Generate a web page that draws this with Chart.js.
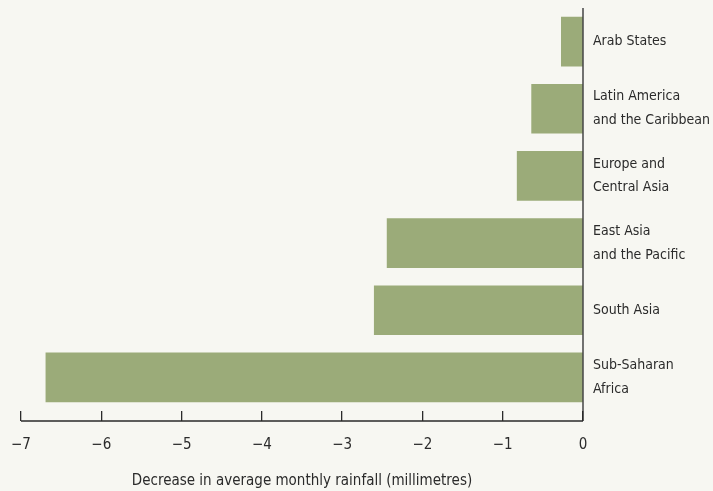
<!DOCTYPE html>
<html>
<head>
<meta charset="utf-8">
<script src="https://cdn.jsdelivr.net/npm/chart.js@4/dist/chart.umd.min.js"></script>
<style>
  html, body { margin: 0; padding: 0; background: #f7f7f2; }
  #wrap { width: 713px; height: 491px; }
</style>
</head>
<body>
<div id="wrap"><canvas id="chart"></canvas></div>
<script>
const regions = [
  ["Arab States"],
  ["Latin America", "and the Caribbean"],
  ["Europe and", "Central Asia"],
  ["East Asia", "and the Pacific"],
  ["South Asia"],
  ["Sub-Saharan", "Africa"],
];
const rainfallDecrease = [-0.27, -0.64, -0.82, -2.44, -2.60, -6.69];
const xTicks = [-7, -6, -5, -4, -3, -2, -1, 0];

const FONT = "'DejaVu Sans Condensed', 'Liberation Sans Narrow', sans-serif";
const INK = "#2b2b2b";

// baseline + zero line drawn a tick-length below the plot, like the print original
const axisLines = {
  id: "axisLines",
  afterDraw(chart) {
    const { ctx, chartArea, scales } = chart;
    const x0 = scales.x.getPixelForValue(0);
    const xMin = scales.x.getPixelForValue(xTicks[0]);
    const base = chartArea.bottom + 10;
    ctx.save();
    ctx.strokeStyle = INK;
    ctx.lineWidth = 1.3;
    ctx.beginPath();
    ctx.moveTo(x0, chartArea.top);
    ctx.lineTo(x0, base);
    ctx.moveTo(xMin, base);
    ctx.lineTo(x0, base);
    ctx.stroke();
    ctx.restore();
  }
};

new Chart(document.getElementById("chart"), {
  type: "bar",
  data: {
    labels: regions,
    datasets: [{
      data: rainfallDecrease,
      backgroundColor: "#9bab79",
      barThickness: 49,
    }]
  },
  options: {
    indexAxis: "y",
    responsive: true,
    maintainAspectRatio: false,
    animation: false,
    layout: { padding: { top: 8, left: 21, right: 0, bottom: 0 } },
    plugins: { legend: { display: false }, tooltip: { enabled: false } },
    scales: {
      x: {
        min: -7,
        max: 0,
        afterBuildTicks: (scale) => { scale.ticks = xTicks.map(v => ({ value: v })); },
        afterFit: (scale) => {
          scale.height = 80;
          scale.paddingLeft = 0;
          scale.paddingRight = 0;
        },
        ticks: {
          color: INK,
          font: { family: FONT, size: 15 },
          padding: 15,
          maxRotation: 0,
          callback: (v) => (v < 0 ? "\u2212" + Math.abs(v) : String(v)),
        },
        grid: { drawOnChartArea: false, drawTicks: true, tickLength: 10, color: INK, lineWidth: 1.3 },
        border: { display: false },
        title: {
          display: true,
          text: "Decrease in average monthly rainfall (millimetres)",
          color: INK,
          font: { family: FONT, size: 15 },
          padding: { top: 0, bottom: 1 },
        },
      },
      y: {
        position: "right",
        afterFit: (scale) => {
          scale.width = 130;
          scale.paddingTop = 0;
          scale.paddingBottom = 0;
        },
        ticks: {
          color: INK,
          font: { family: FONT, size: 14, lineHeight: 1.7 },
          padding: 10,
          crossAlign: "near",
        },
        grid: { display: false, drawTicks: false },
        border: { display: false },
      },
    },
  },
  plugins: [axisLines],
});
</script>
</body>
</html>
